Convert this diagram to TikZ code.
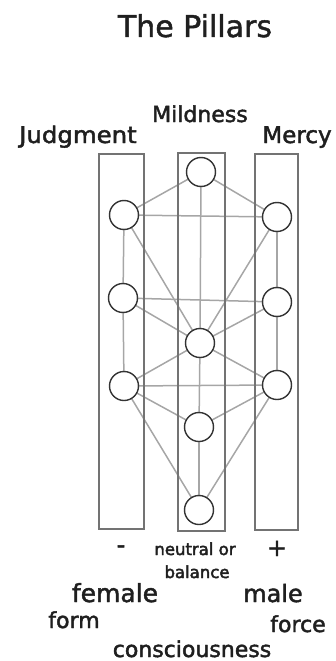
\documentclass[tikz,border=0pt]{standalone}
\usepackage{fontspec}
\setmainfont{DejaVu Sans}
\newcommand{\heavytxt}[1]{\special{pdf:literal direct 0.45 w 2 Tr}#1\special{pdf:literal direct 0 Tr}}
\begin{document}
\begin{tikzpicture}[x=1pt,y=-1pt,
  sef/.style={circle,draw=black!80,line width=1.4pt,fill=white,minimum size=29pt,inner sep=0pt},
  path/.style={draw=black!35,line width=1.5pt},
  pillar/.style={draw=black!55,line width=2.2pt},
  lbl/.style={anchor=base,inner sep=0pt,text=black!88},
]
\useasboundingbox (0,0) rectangle (335,661);
% sefirot
\coordinate (k) at (201,172);
\coordinate (ch) at (277,217);
\coordinate (bi) at (124,215);
\coordinate (che) at (277,302);
\coordinate (ge) at (123,298);
\coordinate (ti) at (200,343);
\coordinate (ne) at (277,385);
\coordinate (ho) at (124,386);
\coordinate (ye) at (199,427);
\coordinate (ma) at (199,510);
% paths
\foreach \a/\b in {k/ch,k/bi,k/ti,ch/bi,ch/ti,ch/che,bi/ti,bi/ge,che/ge,che/ti,che/ne,ge/ti,ge/ho,ti/ne,ti/ye,ti/ho,ne/ho,ne/ye,ne/ma,ho/ye,ho/ma,ye/ma}
  \draw[path] (\a) -- (\b);
% pillars
\draw[pillar] (99,154) rectangle (144,529);
\draw[pillar] (178,153) rectangle (225,531);
\draw[pillar] (255,154) rectangle (298,530);
% circles
\foreach \s in {k,ch,bi,che,ge,ti,ne,ho,ye,ma}
  \node[sef] (n\s) at (\s) {};
% texts
\node[lbl,font=\fontsize{30}{34}\selectfont] (title) at (195,37) {\heavytxt{The Pillars}};
\node[lbl,font=\fontsize{22}{26}\selectfont] (mild) at (200,122) {\heavytxt{Mildness}};
\node[lbl,font=\fontsize{23}{26}\selectfont,xscale=1.06,transform shape] (judg) at (78,143) {\heavytxt{Judgment}};
\node[lbl,font=\fontsize{23}{26}\selectfont] (merc) at (297,143) {\heavytxt{Mercy}};
\node[lbl,font=\fontsize{24}{26}\selectfont] (minus) at (121,553) {\heavytxt{-}};
\node[lbl,font=\fontsize{24}{26}\selectfont] (plus) at (277,556) {\heavytxt{+}};
\node[lbl,font=\fontsize{16.5}{20}\selectfont] (neut) at (195,555) {\heavytxt{neutral or}};
\node[lbl,font=\fontsize{16.5}{20}\selectfont] (bal) at (197,578) {\heavytxt{balance}};
\node[lbl,font=\fontsize{25}{28}\selectfont] (fem) at (115,602) {\heavytxt{female}};
\node[lbl,font=\fontsize{24}{28}\selectfont] (male) at (273,602) {\heavytxt{male}};
\node[lbl,font=\fontsize{22}{26}\selectfont] (form) at (74,628) {\heavytxt{form}};
\node[lbl,font=\fontsize{22}{26}\selectfont] (force) at (298,632) {\heavytxt{force}};
\node[lbl,font=\fontsize{22}{26}\selectfont] (cons) at (192,657) {\heavytxt{consciousness}};
\end{tikzpicture}
\end{document}
